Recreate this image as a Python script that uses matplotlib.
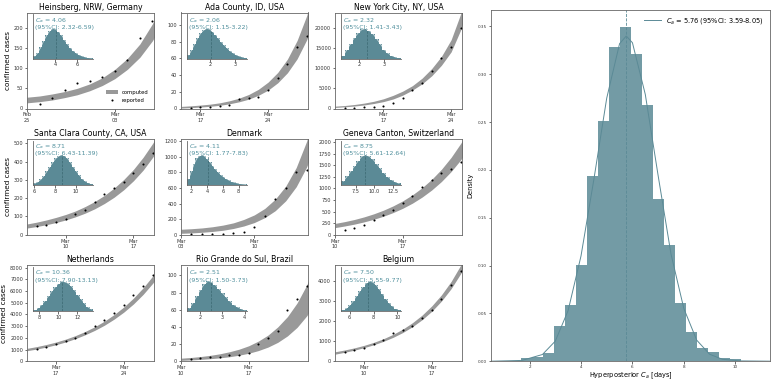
import numpy as np
import matplotlib
matplotlib.use('Agg')
import matplotlib.pyplot as plt
import matplotlib.dates as mdates
from matplotlib.patches import Patch
from matplotlib.lines import Line2D

TEAL = '#5b8a96'
TEXT_TEAL = '#4f8f9c'
BAND = '#999999'

# ---- per-location data ----
heinsberg_start = '2020-02-25'
heinsberg_reported = [10, 26, 46, 62, 69, 78, 92, 120, 174, 218]
heinsberg_lo = [14, 17, 21, 27, 34, 44, 57, 74, 97, 127, 168, 222]
heinsberg_hi = [28, 31, 36, 42, 50, 61, 76, 97, 124, 160, 210, 275]
heinsberg_hist = [0.08, 0.2, 0.38, 0.6, 0.78, 0.92, 1.0, 0.98, 0.9, 0.78,
                  0.62, 0.48, 0.36, 0.26, 0.18, 0.12, 0.08, 0.05, 0.03, 0.02]

ada_start = '2020-03-15'
ada_reported = [1, 2, 2, 3, 4, 11, 12, 14, 22, 36, 53, 74, 87]
ada_lo = [0.5, 1.0, 1.7, 2.6, 3.8, 5.6, 8.0, 11.2, 15.8, 22, 30.8, 42.8, 59.5, 82.5, 114]
ada_hi = [2.5, 3.2, 4.1, 5.2, 6.8, 9.2, 12.4, 16.8, 23, 31.6, 43.2, 59.2, 81.5, 111.5, 154]
ada_hist = [0.12, 0.3, 0.5, 0.7, 0.85, 0.95, 1.0, 0.98, 0.9, 0.8,
            0.68, 0.55, 0.44, 0.34, 0.25, 0.18, 0.12, 0.08, 0.05, 0.03]

nyc_start = '2020-03-12'
nyc_reported = [154, 213, 269, 463, 644, 1339, 2600, 4500, 6400, 9400, 12600, 15300, 20000]
nyc_lo = [250, 420, 610, 870, 1230, 1700, 2350, 3300, 4550, 6100, 8100, 10700, 14000, 19500, 27000]
nyc_hi = [580, 740, 990, 1330, 1780, 2400, 3250, 4300, 5650, 7500, 9900, 12900, 17000, 23500, 32000]
nyc_hist = [0.1, 0.3, 0.5, 0.7, 0.85, 0.97, 1.0, 0.93, 0.82, 0.66, 0.48, 0.3, 0.18, 0.1, 0.05, 0.03]

sc_start = '2020-03-06'
sc_reported = [49, 52, 70, 86, 112, 133, 180, 224, 254, 288, 337, 388, 444]
sc_lo = [37, 45, 55, 67, 81, 98, 118, 142, 171, 205, 246, 295, 353, 424, 508]
sc_hi = [59, 69, 81, 95, 111, 130, 154, 182, 215, 255, 302, 357, 423, 500, 592]
sc_hist = [0.05, 0.1, 0.18, 0.3, 0.45, 0.6, 0.75, 0.88, 0.96, 1.0,
           0.97, 0.88, 0.75, 0.6, 0.45, 0.32, 0.2, 0.12, 0.07, 0.04]

dk_start = '2020-03-03'
dk_reported = [5, 8, 12, 16, 22, 30, 94, 241, 457, 605, 800, 830]
dk_lo = [19, 24, 32, 43, 58, 81, 113, 157, 220, 309, 436, 616, 870, 1230]
dk_hi = [71, 78, 88, 103, 124, 153, 197, 255, 338, 457, 624, 862, 1200, 1680]
dk_hist = [0.2, 0.45, 0.7, 0.88, 0.97, 1.0, 0.95, 0.86, 0.75, 0.63, 0.52,
           0.42, 0.33, 0.26, 0.2, 0.15, 0.11, 0.08, 0.06, 0.04, 0.03, 0.02]

ge_start = '2020-03-10'
ge_reported = [100, 143, 221, 321, 428, 535, 679, 843, 1021, 1186, 1329, 1429, 1560]
ge_lo = [155, 190, 230, 278, 334, 400, 479, 572, 682, 813, 967, 1149, 1364, 1618, 1918]
ge_hi = [245, 284, 330, 386, 452, 530, 623, 732, 862, 1015, 1197, 1413, 1670, 1974, 2334]
ge_hist = [0.12, 0.28, 0.45, 0.62, 0.8, 0.95, 1.0, 0.95, 0.85, 0.7, 0.55, 0.4, 0.27, 0.17, 0.1, 0.05]

nl_start = '2020-03-14'
nl_reported = [1048, 1214, 1434, 1710, 1986, 2428, 3007, 3531, 4166, 4828, 5628, 6455, 7400]
nl_lo = [900, 1040, 1210, 1410, 1650, 1930, 2260, 2640, 3080, 3600, 4200, 4900, 5720, 6680, 7800]
nl_hi = [1100, 1250, 1430, 1640, 1890, 2190, 2540, 2950, 3430, 3990, 4640, 5400, 6280, 7300, 8500]
nl_hist = [0.05, 0.12, 0.22, 0.35, 0.5, 0.66, 0.8, 0.92, 1.0, 0.98, 0.93,
           0.84, 0.7, 0.55, 0.4, 0.26, 0.14, 0.07]

rgs_start = '2020-03-10'
rgs_reported = [3, 4, 5, 5, 7, 7, 10, 20, 27, 35, 60, 73, 88]
rgs_lo = [1.0, 1.5, 2.1, 2.9, 3.9, 5.2, 7.0, 9.3, 12.4, 16.5, 22, 29.5, 39.5, 53, 71]
rgs_hi = [3.5, 4.3, 5.4, 6.8, 8.6, 11, 14, 18, 23.5, 30.5, 40, 52, 68, 89, 117]
rgs_hist = [0.1, 0.28, 0.5, 0.72, 0.9, 1.0, 0.97, 0.88, 0.75, 0.6, 0.46, 0.33, 0.22, 0.14, 0.08, 0.04]

be_start = '2020-03-07'
be_reported = [443, 541, 639, 852, 1049, 1393, 1557, 1770, 2180, 2541, 3115, 3820, 4508]
be_lo = [350, 445, 550, 675, 820, 990, 1190, 1430, 1720, 2070, 2490, 3000, 3620, 4380, 5300]
be_hi = [470, 560, 665, 790, 940, 1120, 1340, 1600, 1920, 2300, 2760, 3310, 3980, 4800, 5800]
be_hist = [0.05, 0.1, 0.2, 0.33, 0.5, 0.66, 0.82, 0.94, 1.0, 0.97, 0.88,
           0.74, 0.58, 0.42, 0.28, 0.17, 0.09, 0.05]

# hyperposterior histogram (density) and fitted curve
hyper_edges_lo, hyper_edges_hi = 1.68, 10.22
hyper_density = [0.003, 0.004, 0.0087, 0.037, 0.0587, 0.1007, 0.194, 0.2514, 0.329, 0.349,
                 0.321, 0.268, 0.1694, 0.122, 0.0608, 0.031, 0.0135, 0.0094, 0.0038, 0.002]
curve_x = [0.5, 1.7, 2.5, 3.0, 3.5, 4.0, 4.5, 5.0, 5.5, 5.76, 6.0, 6.5, 7.0, 7.5, 8.0, 8.5, 9.0, 9.5, 10.2, 11.4]
curve_y = [0.0, 0.0008, 0.007, 0.021, 0.053, 0.110, 0.19, 0.275, 0.332, 0.34, 0.333, 0.279,
           0.194, 0.112, 0.055, 0.022, 0.0073, 0.002, 0.0003, 0.0]

panels = [
    dict(title='Heinsberg, NRW, Germany', start=heinsberg_start, rep=heinsberg_reported,
         lo=heinsberg_lo, hi=heinsberg_hi, ytop=238, hist=heinsberg_hist, hr=(2.0, 7.5),
         ca=4.06, ci=(2.32, 6.59), hticks=[4, 6]),
    dict(title='Ada County, ID, USA', start=ada_start, rep=ada_reported, lo=ada_lo, hi=ada_hi,
         ytop=115, hist=ada_hist, hr=(1.09, 3.49), ca=2.06, ci=(1.15, 3.22), hticks=[2, 3]),
    dict(title='New York City, NY, USA', start=nyc_start, rep=nyc_reported, lo=nyc_lo, hi=nyc_hi,
         ytop=23750, hist=nyc_hist, hr=(1.28, 3.70), ca=2.32, ci=(1.41, 3.43), hticks=[2, 3]),
    dict(title='Santa Clara County, CA, USA', start=sc_start, rep=sc_reported, lo=sc_lo, hi=sc_hi,
         ytop=524, hist=sc_hist, hr=(5.9, 11.66), ca=8.71, ci=(6.43, 11.39), hticks=[6, 8, 10]),
    dict(title='Denmark', start=dk_start, rep=dk_reported, lo=dk_lo, hi=dk_hi,
         ytop=1230, hist=dk_hist, hr=(1.52, 9.06), ca=4.11, ci=(1.77, 7.83), hticks=[2, 4, 6, 8]),
    dict(title='Geneva Canton, Switzerland', start=ge_start, rep=ge_reported, lo=ge_lo, hi=ge_hi,
         ytop=2070, hist=ge_hist, hr=(5.52, 13.6), ca=8.75, ci=(5.61, 12.64), hticks=[7.5, 10.0, 12.5]),
    dict(title='Netherlands', start=nl_start, rep=nl_reported, lo=nl_lo, hi=nl_hi,
         ytop=8220, hist=nl_hist, hr=(7.37, 13.68), ca=10.36, ci=(7.90, 13.13), hticks=[8, 10, 12]),
    dict(title='Rio Grande do Sul, Brazil', start=rgs_start, rep=rgs_reported, lo=rgs_lo, hi=rgs_hi,
         ytop=112, hist=rgs_hist, hr=(1.45, 4.1), ca=2.51, ci=(1.50, 3.73), hticks=[2, 3, 4]),
    dict(title='Belgium', start=be_start, rep=be_reported, lo=be_lo, hi=be_hi,
         ytop=4790, hist=be_hist, hr=(5.3, 10.3), ca=7.50, ci=(5.55, 9.77), hticks=[6, 8, 10]),
]

W, H = 774, 381
fig = plt.figure(figsize=(W / 100, H / 100), dpi=100)

col_left = [27, 181, 335]
row_bottom = [108.5, 234.8, 361.2]
pw, ph = 127, 96

def small_axes(i):
    r, c = divmod(i, 3)
    return fig.add_axes([col_left[c] / W, (H - row_bottom[r]) / H, pw / W, ph / H])

def style(ax, fs=3.6):
    for s in ax.spines.values():
        s.set_linewidth(0.6)
        s.set_color('#666666')
    ax.tick_params(labelsize=fs, length=1.8, width=0.5, pad=1, colors='#333333')

for i, p in enumerate(panels):
    ax = small_axes(i)
    t0 = np.datetime64(p['start'])
    band_days = t0 + np.arange(len(p['lo']))
    rep_days = t0 + 1 + np.arange(len(p['rep']))
    ax.fill_between(band_days, p['lo'], p['hi'], color=BAND, lw=0, label='computed')
    ax.plot(rep_days, p['rep'], 'o', color='k', ms=1.5, mew=0, label='reported')
    ax.set_xlim(t0, rep_days[-1] + np.timedelta64(3, 'h'))
    ax.set_ylim(0, p['ytop'])
    ax.xaxis.set_major_locator(mdates.WeekdayLocator(byweekday=mdates.TU))
    ax.xaxis.set_major_formatter(mdates.DateFormatter('%b\n%d'))
    style(ax)
    ax.set_title(p['title'], fontsize=5.6, pad=2)
    if i % 3 == 0:
        ax.set_ylabel('confirmed cases', fontsize=5.2, labelpad=2)
    if i == 0:
        handles = [Patch(color=BAND, lw=0), Line2D([], [], ls='', marker='o', color='k', ms=1.5, mew=0)]
        ax.legend(handles, ['computed', 'reported'], loc='lower right', fontsize=3.8,
                  frameon=False, handlelength=2.2, borderaxespad=0.6, labelspacing=0.6)

    ins = ax.inset_axes([0.05, 0.52, 0.47, 0.46])
    h = np.array(p['hist'])
    lo_, hi_ = p['hr']
    bw = (hi_ - lo_) / len(h)
    edges = lo_ + bw * np.arange(len(h))
    ins.bar(edges, h, width=bw, align='edge', color=TEAL, lw=0)
    ins.plot(edges + bw / 2, h, color='white', lw=0.5, alpha=0.8)
    ins.vlines(p['ca'], 0, h.max() * 0.98, colors='#3b6872', linestyles='--', lw=0.5)
    ins.set_xlim(lo_, hi_)
    ins.set_ylim(0, h.max() / 0.68)
    ins.set_xticks(p['hticks'])
    ins.set_yticks([])
    ins.patch.set_alpha(0)
    for s in ['top', 'right']:
        ins.spines[s].set_visible(False)
    style(ins)
    ins.text(0.03, 0.97, '$C_a$ = %.2f\n(95%%CI: %.2f-%.2f)' % (p['ca'], p['ci'][0], p['ci'][1]),
             transform=ins.transAxes, va='top', ha='left', fontsize=4.5, color=TEXT_TEAL,
             linespacing=1.05)

# big hyperposterior panel
bx = fig.add_axes([491 / W, (H - 361.2) / H, 279 / W, 351 / H])
nb = len(hyper_density)
hw = (hyper_edges_hi - hyper_edges_lo) / nb
hedges = hyper_edges_lo + hw * np.arange(nb)
bx.bar(hedges, hyper_density, width=hw, align='edge', color=TEAL, alpha=0.85, lw=0)
bx.plot(curve_x, curve_y, color=TEAL, lw=0.7,
        label='$C_a$ = 5.76 (95%CI: 3.59-8.05)')
bx.axvline(5.76, color=TEAL, ls='--', lw=0.6)
bx.set_xlim(0.5, 11.35)
bx.set_ylim(0, 0.367)
bx.set_xticks([2, 4, 6, 8, 10])
bx.set_yticks([0, 0.05, 0.1, 0.15, 0.2, 0.25, 0.3, 0.35])
style(bx, fs=3.0)
bx.set_xlabel('Hyperposterior $C_a$ [days]', fontsize=4.8, labelpad=1)
bx.set_ylabel('Density', fontsize=4.8, labelpad=3)
bx.legend(loc='upper right', fontsize=4.8, frameon=False, handlelength=2.5)

fig.savefig('out.png', dpi=100)
